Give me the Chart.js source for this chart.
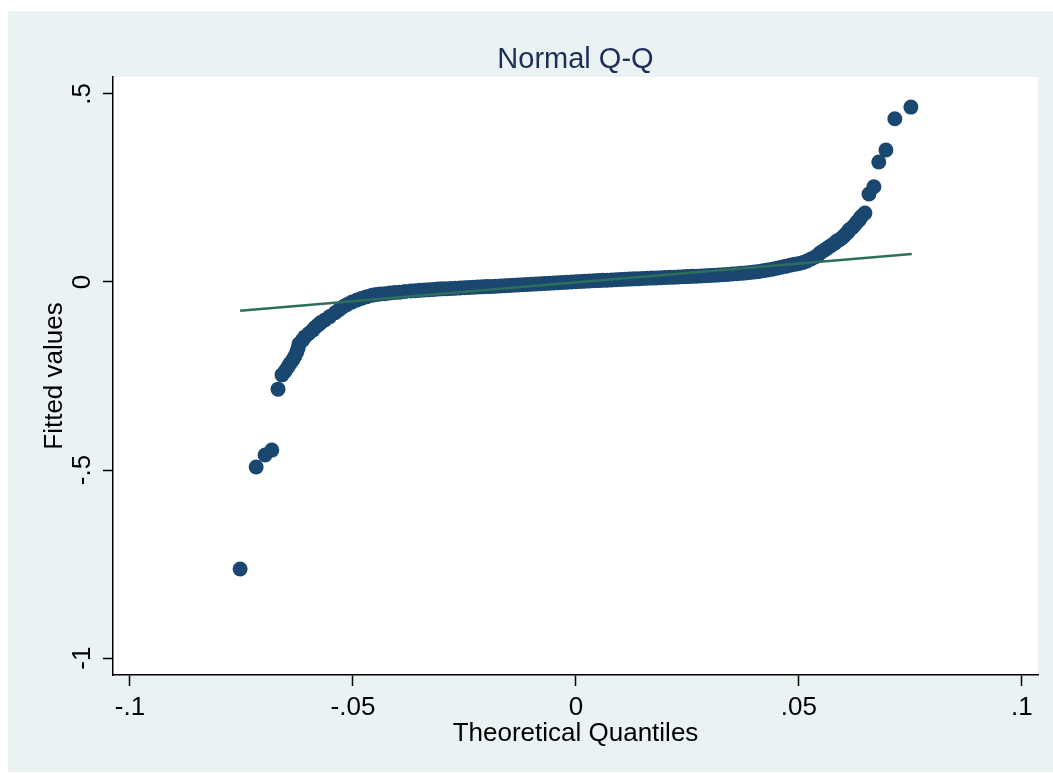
<!DOCTYPE html>
<html>
<head>
<meta charset="utf-8">
<script src="https://cdn.jsdelivr.net/npm/chart.js@4/dist/chart.umd.min.js"></script>
<style>
  body { margin: 0; background: #ffffff; }
  #frame { position: absolute; left: 8px; top: 11px; width: 1045px; height: 761px; background: #eaf2f3; }
  #qq { display: block; }
</style>
</head>
<body>
<div id="frame"><canvas id="qq" width="1045" height="761"></canvas></div>
<script>
// Theoretical quantiles (x) and fitted values (y)
const tailLowX = [
  -0.0753, -0.0717, -0.0697, -0.0682, -0.0668, -0.0659, -0.0652, -0.0646, -0.0641, -0.0635,
  -0.0630, -0.0626, -0.0623, -0.0621, -0.0614, -0.0608, -0.0599, -0.0590, -0.0585, -0.0578,
  -0.0572, -0.0563, -0.0552, -0.0540, -0.0531, -0.0522, -0.0513, -0.0502, -0.0491, -0.0480,
  -0.0469, -0.0457, -0.0448, -0.0439, -0.0428, -0.0417, -0.0406, -0.0395, -0.0383
];
const tailLowY = [
  -0.763, -0.492, -0.460, -0.447, -0.285, -0.247, -0.237, -0.226, -0.217, -0.207,
  -0.197, -0.186, -0.176, -0.165, -0.156, -0.146, -0.137, -0.128, -0.121, -0.114,
  -0.108, -0.101, -0.092, -0.082, -0.074, -0.066, -0.060, -0.053, -0.048, -0.043,
  -0.039, -0.035, -0.033, -0.032, -0.031, -0.029, -0.028, -0.027, -0.0253
];
const midX = [
  -0.037, -0.036, -0.035, -0.034, -0.033, -0.032, -0.031, -0.030, -0.029, -0.028,
  -0.027, -0.026, -0.025, -0.024, -0.023, -0.022, -0.021, -0.020, -0.019, -0.018,
  -0.017, -0.016, -0.015, -0.014, -0.013, -0.012, -0.011, -0.010, -0.009, -0.008,
  -0.007, -0.006, -0.005, -0.004, -0.003, -0.002, -0.001, 0.000, 0.001, 0.002,
  0.003, 0.004, 0.005, 0.006, 0.007, 0.008, 0.009, 0.010, 0.011, 0.012,
  0.013, 0.014, 0.015, 0.016, 0.017, 0.018, 0.019, 0.020, 0.021, 0.022,
  0.023, 0.024, 0.025, 0.026, 0.027, 0.028, 0.029, 0.030, 0.031, 0.032,
  0.033, 0.034, 0.035, 0.036, 0.037, 0.038, 0.039, 0.040, 0.041, 0.042,
  0.043, 0.044, 0.045, 0.046, 0.047, 0.048, 0.049, 0.050
];
const midY = [
  -0.0238, -0.0230, -0.0222, -0.0214, -0.0206, -0.0198, -0.0190, -0.0183, -0.0177, -0.0171,
  -0.0165, -0.0159, -0.0153, -0.0147, -0.0141, -0.0135, -0.0129, -0.0123, -0.0117, -0.0111,
  -0.0105, -0.0099, -0.0092, -0.0085, -0.0078, -0.0071, -0.0065, -0.0059, -0.0052, -0.0046,
  -0.0039, -0.0033, -0.0026, -0.0019, -0.0012, -0.0006, 0.0000, 0.0006, 0.0012, 0.0018,
  0.0025, 0.0031, 0.0037, 0.0043, 0.0049, 0.0055, 0.0061, 0.0067, 0.0072, 0.0077,
  0.0083, 0.0088, 0.0093, 0.0098, 0.0103, 0.0108, 0.0113, 0.0118, 0.0123, 0.0128,
  0.0133, 0.0138, 0.0143, 0.0149, 0.0155, 0.0161, 0.0167, 0.0173, 0.0180, 0.0187,
  0.0194, 0.0202, 0.0211, 0.0220, 0.0229, 0.0240, 0.0252, 0.0266, 0.0281, 0.0298,
  0.0318, 0.0340, 0.0364, 0.0390, 0.0416, 0.0444, 0.0468, 0.0492
];
const tailHighX = [
  0.0509, 0.0518, 0.0527, 0.0536, 0.0543, 0.0547, 0.0554, 0.0561, 0.0567, 0.0574,
  0.0581, 0.0585, 0.0592, 0.0596, 0.0601, 0.0605, 0.0610, 0.0612, 0.0617, 0.0621,
  0.0626, 0.0630, 0.0635, 0.0637, 0.0641, 0.0648, 0.0657, 0.0668, 0.0679, 0.0695,
  0.0715, 0.0751
];
const tailHighY = [
  0.0519, 0.0559, 0.0612, 0.0665, 0.0718, 0.0771, 0.0824, 0.0878, 0.0931, 0.0984,
  0.1037, 0.1090, 0.1130, 0.1170, 0.1223, 0.1277, 0.1330, 0.1383, 0.1423, 0.1463,
  0.1529, 0.1596, 0.1649, 0.1702, 0.1755, 0.1835, 0.234, 0.253, 0.319, 0.351,
  0.434, 0.465
];

// reference line endpoints
const lineX = [-0.0753, 0.0753];
const lineY = [-0.0763, 0.0745];

const xTickValues = [-0.1, -0.05, 0, 0.05, 0.1];
const xTickLabels = ['-.1', '-.05', '0', '.05', '.1'];
const yTickValues = [0.5, 0, -0.5, -1];
const yTickLabels = ['.5', '0', '-.5', '-1'];

const qqX = tailLowX.concat(midX, tailHighX);
const qqY = tailLowY.concat(midY, tailHighY);

const FONT = "'Liberation Sans', Arial, sans-serif";
Chart.defaults.font.family = FONT;
Chart.defaults.color = '#000000';

// white plot region, centred title, sideways y labels
const stataBits = {
  id: 'stataBits',
  beforeDraw(chart) {
    const a = chart.chartArea;
    const ctx = chart.ctx;
    ctx.save();
    ctx.fillStyle = '#ffffff';
    ctx.fillRect(a.left, a.top, a.right - a.left, a.bottom - a.top);
    ctx.restore();
  },
  afterDraw(chart) {
    const ctx = chart.ctx;
    const a = chart.chartArea;
    const y = chart.scales.y;
    ctx.save();
    ctx.font = '29px ' + FONT;
    ctx.fillStyle = '#1e2d55';
    ctx.textAlign = 'center';
    ctx.textBaseline = 'middle';
    ctx.fillText('Normal Q-Q', (a.left + a.right) / 2, 49);

    ctx.font = '26px ' + FONT;
    ctx.fillStyle = '#000000';
    yTickValues.forEach((v, i) => {
      ctx.save();
      ctx.translate(75, y.getPixelForValue(v));
      ctx.rotate(-Math.PI / 2);
      ctx.fillText(yTickLabels[i], 0, 0);
      ctx.restore();
    });
    ctx.restore();
  }
};

new Chart(document.getElementById('qq'), {
  type: 'scatter',
  data: {
    datasets: [
      {
        type: 'line',
        data: lineX.map((x, i) => ({ x: x, y: lineY[i] })),
        borderColor: '#2e6e5f',
        borderWidth: 2.5,
        pointRadius: 0,
        fill: false,
        order: 0
      },
      {
        data: qqX.map((x, i) => ({ x: x, y: qqY[i] })),
        backgroundColor: '#1a476f',
        borderWidth: 0,
        pointRadius: 7.5,
        order: 1
      }
    ]
  },
  options: {
    responsive: false,
    animation: false,
    devicePixelRatio: 1,
    layout: { padding: { top: 66, right: 15, bottom: 0, left: 0 } },
    plugins: {
      legend: { display: false },
      tooltip: { enabled: false },
      title: { display: false }
    },
    scales: {
      x: {
        type: 'linear',
        min: -0.1038,
        max: 0.1036,
        afterBuildTicks: s => { s.ticks = xTickValues.map(v => ({ value: v })); },
        afterFit: s => { s.height = 97; },
        ticks: {
          callback: (v) => xTickLabels[xTickValues.indexOf(v)],
          font: { size: 26 },
          padding: 6,
          maxRotation: 0
        },
        grid: { drawOnChartArea: false, drawTicks: true, tickLength: 11, color: '#000000', tickWidth: 1.5 },
        border: { display: true, color: '#000000', width: 1.5 },
        title: { display: true, text: 'Theoretical Quantiles', font: { size: 26 }, padding: { top: 0, bottom: 22.8 } }
      },
      y: {
        type: 'linear',
        min: -1.045,
        max: 0.545,
        afterBuildTicks: s => { s.ticks = yTickValues.map(v => ({ value: v })); },
        afterFit: s => { s.width = 105; },
        ticks: { display: false },
        grid: { drawOnChartArea: false, drawTicks: true, tickLength: 10, color: '#000000', tickWidth: 1.5 },
        border: { display: true, color: '#000000', width: 1.5 },
        title: { display: true, text: 'Fitted values', font: { size: 26 }, padding: { top: 30.8, bottom: 0 } }
      }
    }
  },
  plugins: [stataBits]
});
</script>
</body>
</html>
